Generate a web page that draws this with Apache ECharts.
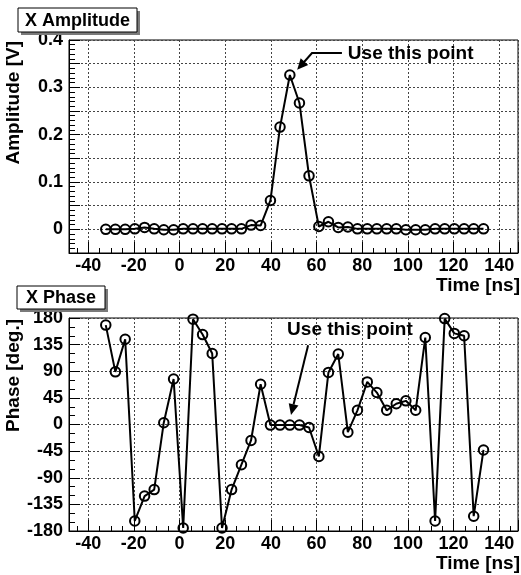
<!DOCTYPE html>
<html><head><meta charset="utf-8">
<script src="https://cdn.jsdelivr.net/npm/echarts@6/dist/echarts.min.js"></script>
<style>html,body{margin:0;padding:0;background:#fff}#c{width:521px;height:575px}</style>
</head><body><div id="c"></div>
<script>
// ---- data ----
const timeNs = [-32.3,-28.1,-23.8,-19.6,-15.3,-11.1,-6.9,-2.6,1.6,5.9,10.1,14.3,18.6,22.8,27.1,31.3,35.5,39.8,44.0,48.3,
  52.5,56.7,61.0,65.2,69.5,73.7,77.9,82.2,86.4,90.7,94.9,99.1,103.4,107.6,111.9,116.1,120.3,124.6,128.8,133.1];
const amplitudeV = [0.000,0.000,0.000,0.001,0.004,0.001,-0.001,-0.001,0.001,0.001,0.001,0.001,0.001,0.001,0.001,0.009,0.008,0.061,0.216,0.326,
  0.267,0.113,0.006,0.016,0.004,0.005,0.001,0.001,0.001,0.001,0.001,-0.001,-0.001,-0.001,0.001,0.001,0.001,0.001,0.001,0.001];
const phaseDeg = [168,89,144,-163,-121,-110,3,77,-175,178,152,120,-175,-110,-68,-27,68,-1,-1,-1,
  -1,-5,-54,88,119,-13,24,72,54,24,35,40,24,147,-163,179,154,150,-155,-43];
const xTickLabels = ['-40','-20','0','20','40','60','80','100','120','140'];
const ampTickLabels = ['0','0.1','0.2','0.3','0.4'];
const phaseTickLabels = ['-180','-135','-90','-45','0','45','90','135','180'];
// annotation anchors in data coordinates
const ampArrow = [[71.1,0.3725],[58.0,0.3725],[51.5,0.337]];
const ampNoteAt = [73.7,0.370];
const phaseArrow = [[56.3,134],[48.8,16]];
const phaseNoteAt = [47.1,159.5];
const noteText = 'Use this point';

const FONT = '"Liberation Sans", Arial, Helvetica, sans-serif';
const chart = echarts.init(document.getElementById('c'), null, {renderer:'canvas'});

function xAxisCfg(gi){
  return {type:'value', gridIndex:gi, min:-48.4, max:148.2, splitNumber:10, minInterval:20, maxInterval:20,
    axisLine:{show:true,onZero:false,lineStyle:{color:'#000',width:1}},
    axisTick:{show:true,inside:true,length:11,lineStyle:{color:'#000',width:1}},
    minorTick:{show:true,splitNumber:4,length:5,lineStyle:{color:'#000',width:1}},
    axisLabel:{show:true,margin:4,fontSize:18,fontWeight:'bold',color:'#000',fontFamily:FONT,
      formatter:v=>{const s=String(Math.round(v));return (Math.abs(v-Math.round(v))<1e-6&&xTickLabels.includes(s))?s:'';}},
    splitLine:{show:true,lineStyle:{color:'#444',type:[2,2],width:1}}};
}
function yAxisCfg(gi,min,max,interval,minorSplit,labels,dec){
  return {type:'value', gridIndex:gi, min:min, max:max, interval:interval,
    axisLine:{show:true,onZero:false,lineStyle:{color:'#000',width:1}},
    axisTick:{show:true,inside:true,length:11,lineStyle:{color:'#000',width:1}},
    minorTick:{show:true,splitNumber:minorSplit,length:6,lineStyle:{color:'#000',width:1}},
    axisLabel:{show:true,margin:6,fontSize:18,fontWeight:'bold',color:'#000',fontFamily:FONT,
      formatter:v=>{const s=String(Number(v.toFixed(dec)));return labels.includes(s)?s:'';}},
    splitLine:{show:true,lineStyle:{color:'#444',type:[2,2],width:1}}};
}
const sym = {symbol:'circle',symbolSize:9.5,itemStyle:{color:'rgba(0,0,0,0)',borderColor:'#000',borderWidth:2},
  lineStyle:{color:'#000',width:2},emphasis:{disabled:true},silent:true};

chart.setOption({
  animation:false,
  backgroundColor:'#fff',
  grid:[
    {left:69,top:40,width:450,height:213,show:true,borderColor:'#000',borderWidth:1,backgroundColor:'transparent'},
    {left:69,top:318,width:450,height:213,show:true,borderColor:'#000',borderWidth:1,backgroundColor:'transparent'}
  ],
  xAxis:[xAxisCfg(0),xAxisCfg(1)],
  yAxis:[yAxisCfg(0,-0.05,0.4,0.05,5,ampTickLabels,2), yAxisCfg(1,-180,180,45,3,phaseTickLabels,0)],
  series:[
    Object.assign({type:'line',xAxisIndex:0,yAxisIndex:0,data:timeNs.map((t,i)=>[t,amplitudeV[i]])},sym),
    Object.assign({type:'line',xAxisIndex:1,yAxisIndex:1,data:timeNs.map((t,i)=>[t,phaseDeg[i]])},sym)
  ]
});

function px(gi,pt){return chart.convertToPixel({gridIndex:gi},pt);}
function arrowHead(tip,from,len,half){
  const dx=tip[0]-from[0],dy=tip[1]-from[1],L=Math.hypot(dx,dy),ux=dx/L,uy=dy/L;
  const bx=tip[0]-ux*len,by=tip[1]-uy*len;
  return [[tip[0],tip[1]],[bx-uy*half,by+ux*half],[bx+uy*half,by-ux*half]];
}
function towards(a,b,f){return [a[0]+(b[0]-a[0])*f,a[1]+(b[1]-a[1])*f];}
function titleBox(x,y,w,h,text){
  return [
    {type:'rect',shape:{x:x+3,y:y+3,width:w,height:h},style:{fill:'#7a7a7a'},z:10},
    {type:'rect',shape:{x:x,y:y,width:w,height:h},style:{fill:'#fff',stroke:'#000',lineWidth:1},z:11},
    {type:'text',x:x+w/2,y:y+h/2+1,style:{text:text,fill:'#000',font:'bold 18px '+FONT,align:'center',verticalAlign:'middle'},z:12}
  ];
}
const a1 = ampArrow.map(p=>px(0,p));
const a2 = phaseArrow.map(p=>px(1,p));
const n1 = px(0,ampNoteAt), n2 = px(1,phaseNoteAt);
const g = [].concat(
  titleBox(18,8,119,24,'X Amplitude'),
  titleBox(17,286,88,23,'X Phase'),
  [
    {type:'text',x:14,y:41,rotation:Math.PI/2,style:{text:'Amplitude [V]',fill:'#000',font:'bold 19px '+FONT,align:'right',verticalAlign:'middle'},z:12},
    {type:'text',x:14,y:319,rotation:Math.PI/2,style:{text:'Phase [deg.]',fill:'#000',font:'bold 19px '+FONT,align:'right',verticalAlign:'middle'},z:12},
    {type:'text',x:520,y:286,style:{text:'Time [ns]',fill:'#000',font:'bold 19px '+FONT,align:'right',verticalAlign:'middle'},z:12},
    {type:'text',x:520,y:564,style:{text:'Time [ns]',fill:'#000',font:'bold 19px '+FONT,align:'right',verticalAlign:'middle'},z:12},
    {type:'polyline',shape:{points:[a1[0],a1[1],towards(a1[2],a1[1],0.3)]},style:{stroke:'#000',lineWidth:2,fill:null},z:12},
    {type:'polygon',shape:{points:arrowHead(a1[2],a1[1],11,5)},style:{fill:'#000'},z:12},
    {type:'text',x:n1[0],y:n1[1],style:{text:noteText,fill:'#000',font:'bold 19px '+FONT,align:'left',verticalAlign:'middle'},z:12},
    {type:'line',shape:{x1:a2[0][0],y1:a2[0][1],x2:towards(a2[0],a2[1],0.85)[0],y2:towards(a2[0],a2[1],0.85)[1]},style:{stroke:'#000',lineWidth:2},z:12},
    {type:'polygon',shape:{points:arrowHead(a2[1],a2[0],11,5)},style:{fill:'#000'},z:12},
    {type:'text',x:n2[0],y:n2[1],style:{text:noteText,fill:'#000',font:'bold 19px '+FONT,align:'left',verticalAlign:'middle'},z:12}
  ]
);
chart.setOption({graphic:g});
</script></body></html>
